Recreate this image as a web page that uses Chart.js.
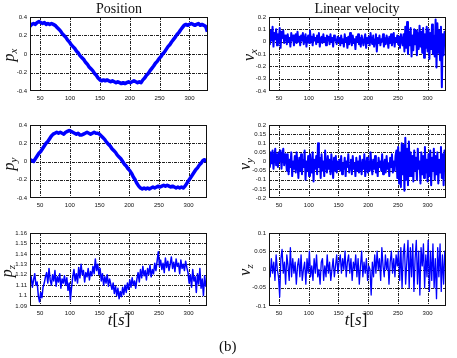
<!DOCTYPE html>
<html>
<head>
<meta charset="utf-8">
<script src="https://cdn.jsdelivr.net/npm/chart.js@4.4.1/dist/chart.umd.min.js"></script>
<style>
  html, body { margin:0; padding:0; background:#fff; }
  #fig { position:relative; width:457px; height:358px; overflow:hidden; background:#fff; }
  canvas { position:absolute; }
  .title { position:absolute; font-family:"Liberation Serif","DejaVu Serif",serif; font-size:14px; line-height:14px; color:#111; white-space:nowrap; transform:translateX(-50%); }
  .ylab { position:absolute; font-family:"Liberation Serif","DejaVu Serif",serif; font-style:italic; font-size:16px; line-height:16px; color:#111; white-space:nowrap; transform:translate(-50%,-50%) rotate(-90deg); }
  .ylab sub { font-size:11px; vertical-align:-3px; }
  .xlab { position:absolute; font-family:"Liberation Serif","DejaVu Serif",serif; font-size:17px; line-height:17px; color:#111; white-space:nowrap; transform:translateX(-50%); }
  .cap { position:absolute; font-family:"Liberation Serif","DejaVu Serif",serif; font-size:15px; line-height:15px; color:#111; }
</style>
</head>
<body>
<div id="fig">
  <canvas id="c1" width="228" height="110" style="left:0px;top:0px;width:228px;height:110px"></canvas>
  <canvas id="c2" width="229" height="110" style="left:228px;top:0px;width:229px;height:110px"></canvas>
  <canvas id="c3" width="228" height="110" style="left:0px;top:110px;width:228px;height:110px"></canvas>
  <canvas id="c4" width="229" height="110" style="left:228px;top:110px;width:229px;height:110px"></canvas>
  <canvas id="c5" width="228" height="110" style="left:0px;top:220px;width:228px;height:110px"></canvas>
  <canvas id="c6" width="229" height="110" style="left:228px;top:220px;width:229px;height:110px"></canvas>

  <div class="title" style="left:119px;top:2px">Position</div>
  <div class="title" style="left:357px;top:2px">Linear velocity</div>

  <div class="ylab" style="left:11px;top:55px">p<sub>x</sub></div>
  <div class="ylab" style="left:251px;top:55px">v<sub>x</sub></div>
  <div class="ylab" style="left:11px;top:164px">p<sub>y</sub></div>
  <div class="ylab" style="left:247px;top:164px">v<sub>y</sub></div>
  <div class="ylab" style="left:9px;top:271px">p<sub>z</sub></div>
  <div class="ylab" style="left:247px;top:270px">v<sub>z</sub></div>

  <div class="xlab" style="left:119px;top:311px"><i>t</i>[<i>s</i>]</div>
  <div class="xlab" style="left:356px;top:311px"><i>t</i>[<i>s</i>]</div>

  <div class="cap" style="left:219px;top:339px">(b)</div>
</div>

<script>
// ---------------- DATA ----------------
const xTicks = [50, 100, 150, 200, 250, 300];
const X_MIN = 33, X_MAX = 331;

const pxTicks = [-0.4, -0.2, 0, 0.2, 0.4];
const vxTicks = [-0.4, -0.3, -0.2, -0.1, 0, 0.1, 0.2];
const pyTicks = [-0.4, -0.2, 0, 0.2, 0.4];
const vyTicks = [-0.2, -0.15, -0.1, -0.05, 0, 0.05, 0.1, 0.15, 0.2];
const pzTicks = [1.09, 1.1, 1.11, 1.12, 1.13, 1.14, 1.15, 1.16];
const vzTicks = [-0.1, -0.05, 0, 0.05, 0.1];

// sample periods (s) of each recorded signal, starting at t = 33 s
const T0 = 33;
const pxStep = 3, pyStep = 3, pzStep = 2, vxStep = 1.5, vyStep = 1.5, vzStep = 2;

const px = [
  0.30, 0.32, 0.33, 0.32, 0.34, 0.35, 0.34, 0.33, 0.34, 0.32,
  0.33, 0.32, 0.33, 0.32, 0.31, 0.29, 0.27, 0.25, 0.22, 0.20,
  0.18, 0.15, 0.13, 0.10, 0.08, 0.06, 0.03, 0.01, -0.02, -0.04,
  -0.06, -0.09, -0.11, -0.14, -0.16, -0.18, -0.21, -0.23, -0.26, -0.28,
  -0.29, -0.28, -0.29, -0.28, -0.29, -0.30, -0.29, -0.30, -0.31, -0.30,
  -0.31, -0.32, -0.31, -0.32, -0.31, -0.30, -0.31, -0.30, -0.29, -0.30,
  -0.31, -0.30, -0.31, -0.28, -0.26, -0.23, -0.21, -0.18, -0.155, -0.13,
  -0.10, -0.08, -0.05, -0.03, 0.00, 0.02, 0.05, 0.08, 0.10, 0.13,
  0.155, 0.18, 0.21, 0.23, 0.26, 0.285, 0.31, 0.32, 0.31, 0.32,
  0.33, 0.32, 0.31, 0.32, 0.33, 0.31, 0.32, 0.31, 0.30, 0.24
];

const py = [
  0.02, 0.01, 0.00, 0.03, 0.06, 0.09, 0.11, 0.14, 0.17, 0.20,
  0.22, 0.25, 0.28, 0.30, 0.31, 0.32, 0.31, 0.32, 0.31, 0.30,
  0.32, 0.33, 0.34, 0.33, 0.32, 0.31, 0.30, 0.31, 0.29, 0.29,
  0.30, 0.31, 0.32, 0.31, 0.30, 0.31, 0.32, 0.31, 0.31, 0.30,
  0.28, 0.26, 0.24, 0.21, 0.19, 0.17, 0.14, 0.12, 0.10, 0.07,
  0.05, 0.03, 0.00, -0.03, -0.05, -0.08, -0.10, -0.13, -0.17, -0.20,
  -0.24, -0.27, -0.29, -0.30, -0.29, -0.30, -0.29, -0.30, -0.29, -0.28,
  -0.29, -0.28, -0.27, -0.28, -0.27, -0.26, -0.27, -0.26, -0.27, -0.28,
  -0.27, -0.28, -0.29, -0.28, -0.29, -0.28, -0.29, -0.27, -0.24, -0.21,
  -0.18, -0.15, -0.12, -0.09, -0.07, -0.04, -0.02, 0.01, 0.02, 0.00
];

const pz = [
  1.112, 1.118, 1.108, 1.115, 1.121, 1.110, 1.113,
  1.100, 1.094, 1.103, 1.098, 1.108, 1.112, 1.118,
  1.122, 1.112, 1.126, 1.115, 1.110, 1.120, 1.114, 1.124, 1.109, 1.118,
  1.113, 1.121, 1.107, 1.116, 1.112, 1.119, 1.110, 1.117, 1.105, 1.112,
  1.096, 1.108,
  1.118, 1.125, 1.114, 1.121, 1.112, 1.127, 1.117, 1.130, 1.120, 1.124, 1.113,
  1.122, 1.118, 1.126, 1.115, 1.123, 1.119, 1.128, 1.121, 1.135, 1.124, 1.130,
  1.120, 1.126, 1.114, 1.121, 1.110, 1.118, 1.112, 1.120, 1.109, 1.116, 1.111,
  1.106, 1.112, 1.102, 1.109, 1.100, 1.107, 1.097, 1.104, 1.099, 1.108, 1.101, 1.110, 1.103,
  1.112, 1.106, 1.115, 1.108, 1.117, 1.110, 1.114, 1.107,
  1.116, 1.122, 1.113, 1.125, 1.117, 1.128, 1.119, 1.124, 1.115,
  1.126, 1.120, 1.129, 1.118, 1.125, 1.121, 1.131, 1.124, 1.133,
  1.142, 1.128,
  1.134, 1.125, 1.131, 1.122, 1.136, 1.127, 1.133, 1.124, 1.130, 1.137, 1.126, 1.132,
  1.123, 1.135, 1.128, 1.131, 1.121, 1.134, 1.126, 1.130, 1.124, 1.133, 1.127, 1.122,
  1.112, 1.120, 1.108, 1.125, 1.114, 1.118, 1.103, 1.121,
  1.111, 1.126, 1.107, 1.116, 1.100, 1.119, 1.109, 1.114
];

const vx = [
  0.05, -0.02, 0.09, 0.01, 0.12, -0.04, 0.07, 0.02, 0.10, -0.03,
  0.06, 0.00, 0.11, -0.05, 0.08, 0.03, 0.09, -0.01, 0.05,
  0.04, -0.02, 0.06, 0.00, 0.03, -0.04, 0.07, 0.01, 0.05, -0.03,
  0.02, 0.06, -0.01, 0.08, 0.00, 0.04, -0.03, 0.05, 0.01, 0.07,
  -0.02, 0.03, 0.06, -0.04, 0.02, 0.05, -0.01, 0.09, 0.00, 0.04,
  -0.03, 0.06, 0.01, 0.03, -0.02, 0.05, 0.00, 0.07, -0.04, 0.02,
  0.04, -0.01, 0.06, 0.00, 0.03, -0.03, 0.05, 0.01, 0.04, -0.02,
  0.06, 0.00, 0.03, -0.04, 0.05, 0.01, 0.02, -0.02, 0.04, 0.00,
  0.03, -0.03, 0.05, -0.01, 0.02, -0.04, 0.06, 0.00, 0.03, -0.05,
  0.04, -0.02, 0.07, 0.01, -0.03, 0.05, -0.01, 0.02, -0.06, 0.04,
  0.00, 0.06, -0.02, 0.03, -0.04, 0.05, 0.01, -0.03, 0.02, 0.06,
  -0.05, 0.03, -0.01, 0.04, -0.03, 0.07, 0.00, -0.02, 0.05, -0.04,
  0.02, 0.06, -0.08, 0.03, -0.01, 0.05, -0.03, 0.02, 0.00, 0.06,
  -0.04, 0.03, -0.02, 0.05, 0.01, -0.05, 0.04, -0.01, 0.06, -0.03,
  0.02, 0.07, -0.04, 0.03, 0.00, 0.05, -0.02, 0.04, -0.05, 0.06,
  0.01, -0.03,
  0.06, -0.08, 0.12, -0.05, 0.16, -0.10, 0.08, -0.03, 0.11, -0.12,
  0.05, -0.07, 0.10, -0.02, 0.09, -0.11, 0.07, -0.06, 0.13, -0.04,
  0.08, -0.09, 0.11, -0.13, 0.06, -0.05, 0.12, -0.08, 0.10, -0.14,
  0.07, -0.06, 0.14, -0.10, 0.05, -0.12, 0.18, -0.21, 0.15, -0.09,
  0.09, -0.15, 0.12, -0.37, 0.06, -0.11, 0.08, -0.04
];

const vy = [
  0.03, -0.03, 0.05, -0.01, 0.06, -0.04, 0.02, 0.07, -0.02, 0.04,
  -0.03, 0.05, 0.00, 0.06, -0.04, 0.03, 0.07, -0.02, 0.04,
  0.02, -0.05, 0.04, -0.07, 0.01, -0.03, 0.05, -0.08, 0.00, -0.04,
  0.03, -0.06, 0.05, -0.02, -0.09, 0.02, -0.05, 0.04, -0.07, 0.01,
  -0.03, 0.06, -0.10, 0.00, -0.05, 0.03, -0.08, 0.04, -0.02, -0.06,
  0.05, -0.11, 0.01, -0.04, 0.03, -0.07, 0.10, -0.03, 0.02, -0.09,
  0.04, -0.05, 0.00, -0.08, 0.06, -0.02, -0.06, 0.03, -0.04, 0.01,
  -0.07, 0.04, -0.03, -0.09, 0.02, -0.05, 0.03, -0.06, 0.00, -0.04,
  0.01, -0.05, 0.03, -0.07, -0.01, -0.04, 0.02, -0.08, 0.00, -0.03,
  0.04, -0.06, -0.02, 0.01, -0.07, 0.03, -0.04, -0.01, -0.08, 0.02,
  -0.05, 0.00, -0.06, 0.03, -0.03, -0.07, 0.01, -0.04, 0.04, -0.08,
  -0.02, 0.02, -0.06, 0.00, -0.05, 0.05, -0.03, -0.07, 0.01, -0.04,
  0.03, -0.06, -0.01, -0.08, 0.02, -0.03, 0.00, -0.05, 0.04, -0.07,
  -0.02, 0.01, -0.06, 0.03, -0.04, -0.01, -0.08, 0.02, -0.03, 0.04,
  -0.06, 0.00, -0.05, 0.03,
  0.06, -0.09, 0.08, -0.12, 0.05, -0.14, 0.10, -0.07, 0.09, -0.16,
  0.13, -0.10, 0.07, -0.13, 0.11, -0.08,
  0.05, -0.08, 0.03, -0.11, 0.06, -0.05, 0.02, -0.10, 0.07, -0.04,
  0.00, -0.12, 0.05, -0.07, 0.03, -0.09, 0.08, -0.06, 0.01, -0.11,
  0.04, -0.08, 0.06, -0.13, 0.02, -0.05, 0.07, -0.10, 0.03, -0.07,
  0.05, -0.12, 0.01, -0.06, 0.08, -0.09, 0.04, -0.13, 0.06, -0.03
];

const vz = [
  0.01, -0.02, 0.03, -0.01, 0.02, -0.03, 0.04, 0.00, -0.02, -0.075,
  0.03, 0.055, -0.01, 0.02, -0.04, 0.04, 0.01, -0.03, 0.06, -0.02,
  0.03, -0.01, 0.02, -0.04, 0.01, 0.03, -0.02, 0.04, -0.03, 0.00,
  0.02, -0.04, 0.03, -0.01, 0.05, -0.02, 0.01, -0.03, 0.03, -0.01,
  0.04, -0.02, 0.00, -0.04, 0.02, 0.03, -0.03, 0.01, -0.02, 0.04,
  -0.01, 0.02, -0.03, 0.00, 0.03, -0.02, 0.01, 0.04, -0.01,
  0.02, 0.04, -0.01, 0.03, 0.00, 0.05, -0.02, 0.02, 0.04, -0.01,
  0.03, -0.03, 0.02, 0.00, 0.04, -0.02, 0.03, -0.04, 0.01, 0.05,
  -0.02, 0.02, -0.01, 0.03, -0.03, 0.01, 0.00, -0.07, 0.02, -0.02,
  0.04, -0.01, 0.05, 0.00, 0.03, -0.03, 0.06, 0.01, -0.02, 0.04,
  0.00, 0.03, -0.04, 0.02, 0.05, -0.01, 0.03, -0.02, 0.04, 0.01,
  0.05, -0.03, 0.06, -0.05, 0.04, 0.07, -0.04, 0.02, 0.08, -0.05,
  0.06, -0.02, 0.07, -0.06, 0.03, 0.08, -0.04, 0.05, -0.07, 0.06,
  0.01, 0.07, -0.05, 0.04, -0.02, 0.08, -0.06, 0.05, -0.03, 0.07,
  -0.05, 0.03, -0.08, 0.06, -0.02, 0.07, -0.06, 0.04, -0.04, 0.05, 0.00
];

// ---------------- DRAWING ----------------
function sampleTimes(step, n) {
  const t = [];
  for (let i = 0; i < n; i++) t.push(T0 + i * step);
  return t;
}

const frame = {
  id: 'matlabFrame',
  beforeDatasetsDraw(chart) {
    const { ctx, chartArea: a, scales: { x, y } } = chart;
    ctx.save();
    ctx.strokeStyle = '#222';
    ctx.lineWidth = 1;
    ctx.setLineDash([3, 1, 1, 1]);
    x.ticks.forEach(t => {
      const p = Math.round(x.getPixelForValue(t.value)) + 0.5;
      if (p <= a.left + 1 || p >= a.right - 1) return;
      ctx.beginPath(); ctx.moveTo(p, a.top); ctx.lineTo(p, a.bottom); ctx.stroke();
    });
    y.ticks.forEach(t => {
      const p = Math.round(y.getPixelForValue(t.value)) + 0.5;
      if (p <= a.top + 1 || p >= a.bottom - 1) return;
      ctx.beginPath(); ctx.moveTo(a.left, p); ctx.lineTo(a.right, p); ctx.stroke();
    });
    ctx.restore();
  },
  afterDraw(chart) {
    const { ctx, chartArea: a } = chart;
    ctx.save();
    ctx.strokeStyle = '#111';
    ctx.lineWidth = 1;
    ctx.setLineDash([]);
    const l = Math.round(a.left) + 0.5, t = Math.round(a.top) + 0.5;
    const r = Math.round(a.right) - 0.5, b = Math.round(a.bottom) - 0.5;
    ctx.strokeRect(l, t, r - l, b - t);
    ctx.restore();
  }
};

const tickFont = { family: '"Liberation Sans", Arial, sans-serif', size: 6 };

function buildChart(canvasId, box, series, step, yTicks, lineWidth) {
  const times = sampleTimes(step, series.length);
  return new Chart(document.getElementById(canvasId), {
    type: 'line',
    data: {
      datasets: [{
        data: series.map((v, i) => ({ x: times[i], y: v })),
        borderColor: '#0000ff',
        borderWidth: lineWidth,
        pointRadius: 0,
        tension: 0,
        clip: 0,
        borderJoinStyle: 'round'
      }]
    },
    options: {
      responsive: false,
      animation: false,
      devicePixelRatio: 1,
      events: [],
      layout: { padding: { top: box.pt, right: box.pr, left: 0, bottom: 0 } },
      plugins: { legend: { display: false }, tooltip: { enabled: false } },
      scales: {
        x: {
          type: 'linear', min: X_MIN, max: X_MAX,
          grid: { display: false, drawTicks: false }, border: { display: false },
          afterBuildTicks: s => { s.ticks = xTicks.map(v => ({ value: v })); },
          afterFit: s => { s.height = box.xH; },
          ticks: { font: tickFont, color: '#111', padding: 4, maxRotation: 0, autoSkip: false, callback: v => String(v) }
        },
        y: {
          type: 'linear', min: yTicks[0], max: yTicks[yTicks.length - 1],
          grid: { display: false, drawTicks: false }, border: { display: false },
          afterBuildTicks: s => { s.ticks = yTicks.map(v => ({ value: v })); },
          afterFit: s => { s.width = box.yW; },
          ticks: { font: tickFont, color: '#111', padding: 3, autoSkip: false, callback: v => String(v) }
        }
      }
    },
    plugins: [frame]
  });
}

buildChart('c1', { yW: 30, xH: 19, pt: 17, pr: 20 }, px, pxStep, pxTicks, 3.5);
buildChart('c2', { yW: 41, xH: 19, pt: 17, pr: 11 }, vx, vxStep, vxTicks, 2);
buildChart('c3', { yW: 30, xH: 22, pt: 15, pr: 21 }, py, pyStep, pyTicks, 3.5);
buildChart('c4', { yW: 41, xH: 22, pt: 15, pr: 11 }, vy, vyStep, vyTicks, 2);
buildChart('c5', { yW: 30, xH: 24, pt: 13, pr: 21 }, pz, pzStep, pzTicks, 1.5);
buildChart('c6', { yW: 41, xH: 24, pt: 13, pr: 11 }, vz, vzStep, vzTicks, 1.3);
</script>
</body>
</html>
